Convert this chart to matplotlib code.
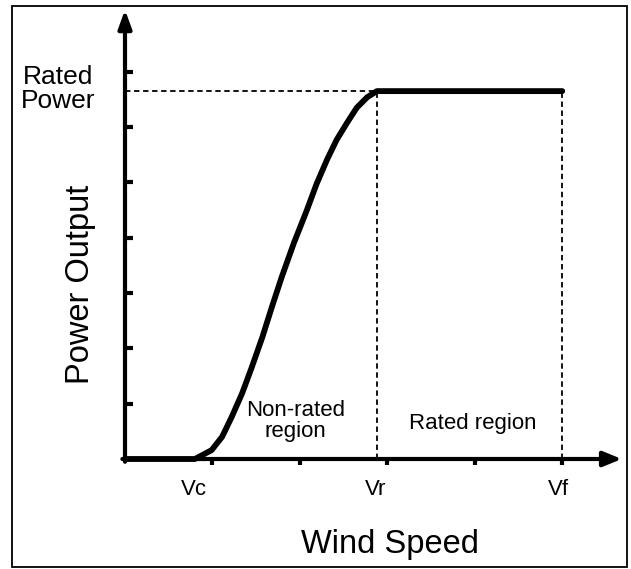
import matplotlib.pyplot as plt
from matplotlib.patches import Rectangle

plt.rcParams['font.family'] = ['Liberation Sans', 'DejaVu Sans']

# power curve (x in tick units, y in tick units)
wind = [0, 0.80, 0.99, 1.11, 1.22, 1.34, 1.45, 1.57, 1.68, 1.79, 1.93, 2.08,
        2.19, 2.31, 2.42, 2.54, 2.65, 2.77, 2.88, 5.0]
power = [0, 0, 0.16, 0.40, 0.76, 1.19, 1.66, 2.20, 2.75, 3.28, 3.90, 4.50,
         4.97, 5.41, 5.77, 6.08, 6.35, 6.54, 6.65, 6.65]
v_rated = 2.88
v_furl = 5.0
rated = 6.65
speed_pos = [0.79, 2.87, 4.96]
speed_labels = ['Vc', 'Vr', 'Vf']
x_ticks = [1, 2, 3, 4, 5]
y_ticks = [1, 2, 3, 4, 5, 6, 7]

fig = plt.figure(figsize=(6.31, 5.69), dpi=100)
fig.patches.append(Rectangle((12 / 631, 2 / 569), 615 / 631, 561 / 569,
                             transform=fig.transFigure, fill=False,
                             edgecolor='k', lw=1.3))
ax = fig.add_axes([125 / 631, 110 / 569, 495 / 631, 447 / 569])
ax.set_xlim(0, 5.66)
ax.set_ylim(0, 8.08)
for s in ax.spines.values():
    s.set_visible(False)

# axes with arrows
ax.annotate('', xy=(5.68, 0), xytext=(-0.03, 0),
            arrowprops=dict(arrowstyle='-|>,head_length=1.1,head_width=0.45',
                            lw=3, color='k', shrinkA=0, shrinkB=0),
            annotation_clip=False)
ax.annotate('', xy=(0, 8.12), xytext=(0, -0.05),
            arrowprops=dict(arrowstyle='-|>,head_length=1.1,head_width=0.4',
                            lw=3, color='k', shrinkA=0, shrinkB=0),
            annotation_clip=False)

ax.set_xticks(x_ticks)
ax.set_yticks(y_ticks)
ax.set_xticklabels([])
ax.set_yticklabels([])
ax.tick_params(axis='x', direction='out', length=4, width=3, pad=0)
ax.tick_params(axis='y', direction='in', length=6, width=3, pad=0)

# dashed guides
ax.plot([0, v_rated], [rated, rated], 'k--', lw=1.3, dashes=(3, 2))
ax.plot([v_rated, v_rated], [0, rated], 'k--', lw=1.3, dashes=(3, 2))
ax.plot([v_furl, v_furl], [0, rated], 'k--', lw=1.3, dashes=(3, 2))

# power curve
ax.plot(wind, power, color='k', lw=4.2, solid_capstyle='round',
        solid_joinstyle='round', clip_on=False)

for xv, lab in zip(speed_pos, speed_labels):
    ax.text(xv, -0.55, lab, ha='center', va='center', fontsize=16)

ax.text(1.95, 0.68, 'Non-rated\nregion', ha='center', va='center',
        fontsize=16, linespacing=1.0)
ax.text(3.98, 0.65, 'Rated region', ha='center', va='center', fontsize=16)

fig.text(58 / 631, 1 - 89 / 569, 'Rated\nPower', ha='center', va='center',
         fontsize=19, linespacing=1.0)
fig.text(80 / 631, 1 - 284 / 569, 'Power Output', ha='center', va='center',
         fontsize=23.5, rotation=90)
fig.text(390 / 631, 1 - 545 / 569, 'Wind Speed', ha='center', va='center',
         fontsize=23.5)

fig.savefig('out.png', dpi=100)
